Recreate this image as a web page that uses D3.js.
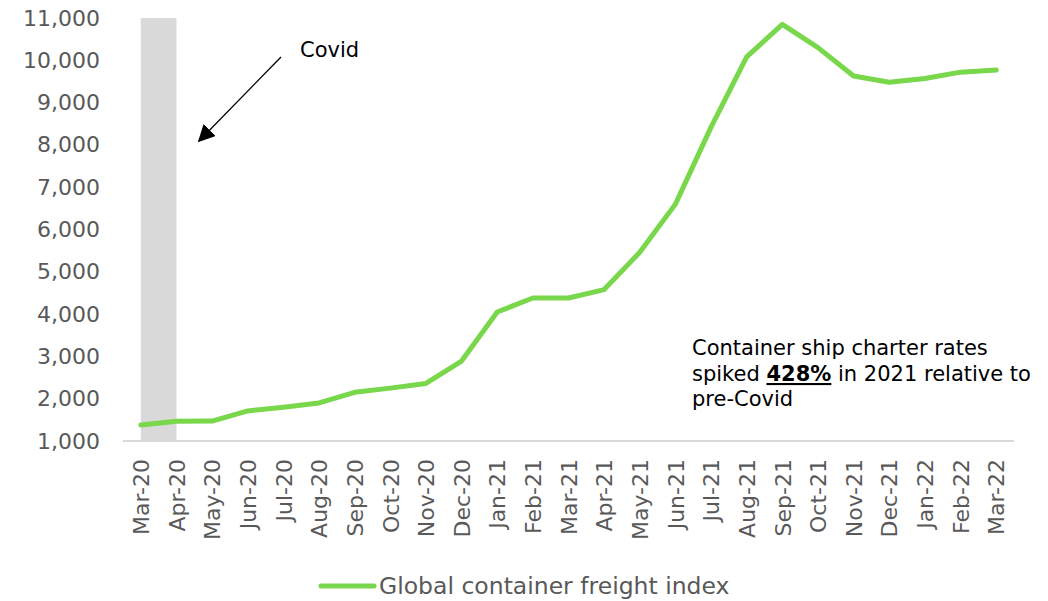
<!DOCTYPE html>
<html>
<head>
<meta charset="utf-8">
<script src="https://cdn.jsdelivr.net/npm/d3@7"></script>
<style>
  html, body { margin: 0; padding: 0; background: #fff; }
  svg { display: block; font-family: "DejaVu Sans", "Noto Sans", sans-serif; }
</style>
</head>
<body>
<svg id="chart" width="1048" height="601"></svg>
<script>
// Monthly categories, Mar-2020 through Mar-2022
const months = ["Mar-20","Apr-20","May-20","Jun-20","Jul-20","Aug-20","Sep-20","Oct-20","Nov-20","Dec-20",
  "Jan-21","Feb-21","Mar-21","Apr-21","May-21","Jun-21","Jul-21","Aug-21","Sep-21","Oct-21","Nov-21","Dec-21",
  "Jan-22","Feb-22","Mar-22"];
// Global container freight index
const freightIndex = [1380, 1465, 1470, 1710, 1800, 1900, 2150, 2250, 2360, 2890,
  4050, 4380, 4380, 4580, 5460, 6600, 8420, 10080, 10850, 10300, 9630, 9480,
  9570, 9720, 9770];
const yTicks = [1000, 2000, 3000, 4000, 5000, 6000, 7000, 8000, 9000, 10000, 11000];
const covidSpan = ["Mar-20", "Apr-20"];
const seriesName = "Global container freight index";

const svg = d3.select("#chart");
const lineColor = "#78D74A";
const textGray = "#595959";

const x = d3.scalePoint().domain(months).range([123, 1014]).padding(0.5);
const y = d3.scaleLinear().domain([1000, 11000]).range([441, 18]);

// Covid period shading
svg.append("rect")
  .attr("x", x(covidSpan[0]))
  .attr("width", x(covidSpan[1]) - x(covidSpan[0]))
  .attr("y", y(11000))
  .attr("height", y(1000) - y(11000))
  .attr("fill", "#D9D9D9");

// Y axis (labels only)
const yAxis = svg.append("g")
  .attr("transform", "translate(100,0)")
  .call(d3.axisLeft(y).tickValues(yTicks).tickSize(0).tickPadding(0).tickFormat(d3.format(",")));
yAxis.select(".domain").remove();
yAxis.selectAll("text")
  .attr("fill", textGray)
  .attr("font-size", 22)
  .attr("font-family", "DejaVu Sans, sans-serif");

// X axis
const xAxis = svg.append("g")
  .attr("transform", `translate(0,${y(1000)})`)
  .call(d3.axisBottom(x).tickSize(0).tickPadding(0));
xAxis.select(".domain")
  .attr("stroke", "#D9D9D9")
  .attr("stroke-width", 2)
  .attr("d", "M123,0H1014");
xAxis.selectAll("text")
  .attr("fill", textGray)
  .attr("font-size", 22)
  .attr("font-family", "DejaVu Sans, sans-serif")
  .attr("transform", "rotate(-90)")
  .attr("text-anchor", "end")
  .attr("x", -18)
  .attr("y", 0)
  .attr("dy", "0.35em");

// Series line
svg.append("path")
  .datum(freightIndex)
  .attr("fill", "none")
  .attr("stroke", lineColor)
  .attr("stroke-width", 5)
  .attr("stroke-linejoin", "round")
  .attr("stroke-linecap", "round")
  .attr("d", d3.line().x((d, i) => x(months[i])).y(d => y(d)));

// Covid annotation with arrow
const defs = svg.append("defs");
defs.append("marker")
  .attr("id", "arrowhead")
  .attr("viewBox", "0 0 10 10")
  .attr("refX", 9).attr("refY", 5)
  .attr("markerWidth", 17).attr("markerHeight", 17)
  .attr("markerUnits", "userSpaceOnUse")
  .attr("orient", "auto")
  .append("path")
  .attr("d", "M0,0L10,5L0,10Z")
  .attr("fill", "#000");

svg.append("line")
  .attr("x1", 281).attr("y1", 57)
  .attr("x2", 199).attr("y2", 141)
  .attr("stroke", "#000")
  .attr("stroke-width", 1.3)
  .attr("marker-end", "url(#arrowhead)");

svg.append("text")
  .attr("x", 300).attr("y", 57)
  .attr("font-size", 21)
  .attr("fill", "#000")
  .text("Covid");

// Charter-rate note
const note = svg.append("text")
  .attr("x", 692)
  .attr("font-size", 21)
  .attr("fill", "#000");
note.append("tspan").attr("x", 692).attr("y", 355).text("Container ship charter rates");
const l2 = note.append("tspan").attr("x", 692).attr("y", 381);
l2.append("tspan").text("spiked ");
l2.append("tspan").attr("font-weight", "bold").attr("text-decoration", "underline").text("428%");
l2.append("tspan").text(" in 2021 relative to");
note.append("tspan").attr("x", 692).attr("y", 406).text("pre-Covid");

// Legend
const legend = svg.append("g");
legend.append("line")
  .attr("x1", 321).attr("x2", 374)
  .attr("y1", 586).attr("y2", 586)
  .attr("stroke", lineColor)
  .attr("stroke-width", 5)
  .attr("stroke-linecap", "round");
legend.append("text")
  .attr("x", 379).attr("y", 594)
  .attr("font-size", 23.5)
  .attr("fill", textGray)
  .text(seriesName);
</script>
</body>
</html>
